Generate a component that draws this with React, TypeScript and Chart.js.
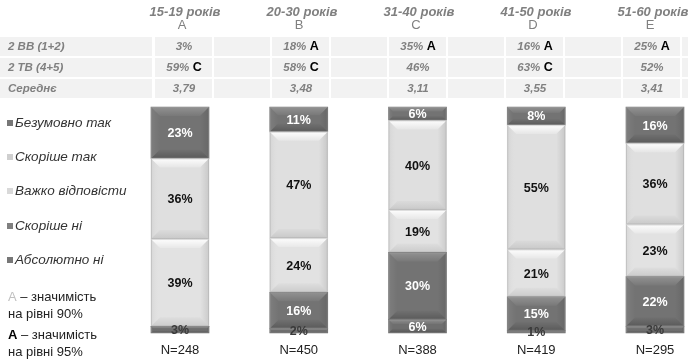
import React, { useEffect, useRef } from "react";
import { Chart, registerables } from "chart.js";

Chart.register(...registerables);

// ---- data ----
const groups = ["15-19 років", "20-30 років", "31-40 років", "41-50 років", "51-60 років"];
const groupLetters = ["A", "B", "C", "D", "E"];
const sampleSizes = ["N=248", "N=450", "N=388", "N=419", "N=295"];

const seriesNames = ["Абсолютно ні", "Скоріше ні", "Важко відповісти", "Скоріше так", "Безумовно так"];
const absolutelyNo = [3, 2, 6, 1, 3];
const ratherNo = [0, 16, 30, 15, 22];
const hardToSay = [39, 24, 19, 21, 23];
const ratherYes = [36, 47, 40, 55, 36];
const definitelyYes = [23, 11, 6, 8, 16];

const rowLabels = ["2 BB (1+2)", "2 TB (4+5)", "Середнє"];
const bottomTwo = ["3%", "18%", "35%", "16%", "25%"];
const bottomTwoSig = ["", "A", "A", "A", "A"];
const topTwo = ["59%", "58%", "46%", "63%", "52%"];
const topTwoSig = ["C", "C", "", "C", ""];
const means = ["3,79", "3,48", "3,11", "3,55", "3,41"];

// ---- styles ----
const FONT = "'Liberation Sans', Arial, sans-serif";
const seriesColors = ["#6e6e6e", "#737373", "#e2e2e2", "#dfdfdf", "#737373"];
const legendColors = ["#777777", "#808080", "#d9d9d9", "#cfcfcf", "#777777"];
const darkSeries = [true, true, false, false, true];

const seriesValues = [absolutelyNo, ratherNo, hardToSay, ratherYes, definitelyYes];
const colTotals = groups.map((_, i) => seriesValues.reduce((s, arr) => s + arr[i], 0));

function grad(ctx: any, x0: number, y0: number, x1: number, y1: number, c0: string, c1: string) {
  const g = ctx.createLinearGradient(x0, y0, x1, y1);
  g.addColorStop(0, c0);
  g.addColorStop(1, c1);
  return g;
}

const overlayPlugin = {
  id: "overlay",
  beforeDatasetsDraw(chart: any) {
    const ctx = chart.ctx;
    ctx.save();
    const rowTops = [37, 58, 79];
    ctx.fillStyle = "#f2f2f2";
    rowTops.forEach((t) => {
      ctx.fillRect(0, t, 152, 19);
      for (let i = 0; i < groups.length; i++) {
        ctx.fillRect(155 + i * 117, t, 57, 19);
        ctx.fillRect(214 + i * 117, t, 56, 19);
      }
    });
    ctx.restore();
  },
  afterDatasetsDraw(chart: any) {
    const ctx = chart.ctx;
    ctx.save();
    chart.data.datasets.forEach((ds: any, di: number) => {
      const meta = chart.getDatasetMeta(di);
      meta.data.forEach((el: any) => {
        const { x, y, base, width } = el.getProps(["x", "y", "base", "width"], true);
        const l = x - width / 2;
        const r = x + width / 2;
        const t = Math.min(y, base);
        const b = Math.max(y, base);
        const h = b - t;
        if (h < 0.5) return;
        const bv = Math.min(9, h / 3, width / 4);
        const dark = darkSeries[di];
        // top bevel
        ctx.fillStyle = grad(ctx, 0, t, 0, t + bv,
          dark ? "rgba(255,255,255,0.22)" : "rgba(255,255,255,0.95)",
          dark ? "rgba(255,255,255,0.04)" : "rgba(255,255,255,0.2)");
        ctx.beginPath();
        ctx.moveTo(l, t); ctx.lineTo(r, t); ctx.lineTo(r - bv, t + bv); ctx.lineTo(l + bv, t + bv); ctx.closePath();
        ctx.fill();
        // bottom bevel
        ctx.fillStyle = grad(ctx, 0, b, 0, b - bv,
          dark ? "rgba(0,0,0,0.22)" : "rgba(0,0,0,0.10)",
          "rgba(0,0,0,0.02)");
        ctx.beginPath();
        ctx.moveTo(l, b); ctx.lineTo(r, b); ctx.lineTo(r - bv, b - bv); ctx.lineTo(l + bv, b - bv); ctx.closePath();
        ctx.fill();
        // left bevel
        ctx.fillStyle = grad(ctx, l, 0, l + bv,0,
          dark ? "rgba(255,255,255,0.08)" : "rgba(0,0,0,0.05)",
          "rgba(255,255,255,0.0)");
        ctx.beginPath();
        ctx.moveTo(l, t); ctx.lineTo(l + bv, t + bv); ctx.lineTo(l + bv, b - bv); ctx.lineTo(l, b); ctx.closePath();
        ctx.fill();
        // right bevel
        ctx.fillStyle = grad(ctx, r, 0, r - bv, 0, "rgba(0,0,0,0.10)", "rgba(0,0,0,0.0)");
        ctx.beginPath();
        ctx.moveTo(r, t); ctx.lineTo(r - bv, t + bv); ctx.lineTo(r - bv, b - bv); ctx.lineTo(r, b); ctx.closePath();
        ctx.fill();
        ctx.strokeStyle = "rgba(160,160,160,0.35)";
        ctx.lineWidth = 1;
        ctx.strokeRect(l + 0.5, t + 0.5, width - 1, h - 1);
      });
    });
    // value labels
    ctx.textAlign = "center";
    ctx.textBaseline = "middle";
    ctx.font = `bold 12.5px ${FONT}`;
    chart.data.datasets.forEach((ds: any, di: number) => {
      const meta = chart.getDatasetMeta(di);
      meta.data.forEach((el: any, i: number) => {
        const raw = seriesValues[di][i];
        if (!raw) return;
        const { x, y, base } = el.getProps(["x", "y", "base"], true);
        const h = Math.abs(base - y);
        const cy = (y + base) / 2;
        ctx.fillStyle = h < 9 ? "#3a3a3a" : darkSeries[di] ? "#ffffff" : "#111111";
        ctx.fillText(raw + "%", x, cy + 1);
      });
    });
    ctx.restore();
  },
  afterDraw(chart: any) {
    const ctx = chart.ctx;
    const xs = chart.scales.x;
    ctx.save();
    ctx.textBaseline = "middle";

    // header
    ctx.textAlign = "center";
    groups.forEach((g, i) => {
      const cx = 155 + i * 117 + 30;
      ctx.fillStyle = "#808080";
      ctx.font = `italic bold 13px ${FONT}`;
      ctx.fillText(g, cx, 12);
      ctx.font = `13px ${FONT}`;
      ctx.fillText(groupLetters[i], cx - 3, 25);
    });

    // table rows
    const rowTops = [37, 58, 79];
    const rowVals = [bottomTwo, topTwo, means];
    const rowSig = [bottomTwoSig, topTwoSig, ["", "", "", "", ""]];
    rowTops.forEach((t, r) => {
      const cy = t + 10;
      ctx.textAlign = "left";
      ctx.fillStyle = "#808080";
      ctx.font = `italic bold 11.5px ${FONT}`;
      ctx.fillText(rowLabels[r], 8, cy);
      for (let i = 0; i < groups.length; i++) {
        const cx = 155 + i * 117 + 29;
        const v = rowVals[r][i];
        const s = rowSig[r][i];
        ctx.font = `italic bold 11.5px ${FONT}`;
        const wv = ctx.measureText(v).width;
        ctx.font = `bold 12.5px ${FONT}`;
        const ws = s ? ctx.measureText(" " + s).width : 0;
        const start = cx - (wv + ws) / 2;
        ctx.font = `italic bold 11.5px ${FONT}`;
        ctx.fillStyle = "#808080";
        ctx.fillText(v, start, cy);
        if (s) {
          ctx.font = `bold 12.5px ${FONT}`;
          ctx.fillStyle = "#000000";
          ctx.fillText(" " + s, start + wv, cy);
        }
      }
    });

    // legend (top to bottom: last series first)
    const legendY = [123, 157, 191, 226, 260];
    ctx.textAlign = "left";
    for (let k = 0; k < seriesNames.length; k++) {
      const si = seriesNames.length - 1 - k;
      const y = legendY[k];
      ctx.fillStyle = legendColors[si];
      ctx.fillRect(7, y - 3, 6, 6);
      ctx.fillStyle = "#333333";
      ctx.font = `italic 13.5px ${FONT}`;
      ctx.fillText(seriesNames[si], 15, y);
    }

    // significance notes
    ctx.font = `13px ${FONT}`;
    ctx.fillStyle = "#c0c0c0";
    ctx.fillText("A", 8, 297);
    let w = ctx.measureText("A").width;
    ctx.fillStyle = "#222222";
    ctx.fillText(" – значимість", 8 + w, 297);
    ctx.fillText("на рівні 90%", 8, 314);
    ctx.font = `bold 13px ${FONT}`;
    ctx.fillStyle = "#000000";
    ctx.fillText("A", 8, 335);
    w = ctx.measureText("A").width;
    ctx.font = `13px ${FONT}`;
    ctx.fillStyle = "#222222";
    ctx.fillText(" – значимість", 8 + w, 335);
    ctx.fillText("на рівні 95%", 8, 352);

    // sample sizes under bars
    ctx.textAlign = "center";
    ctx.font = `13px ${FONT}`;
    ctx.fillStyle = "#222222";
    sampleSizes.forEach((n, i) => {
      ctx.fillText(n, xs.getPixelForValue(i), 350);
    });
    ctx.restore();
  },
};

export default function App() {
  const ref = useRef<HTMLCanvasElement | null>(null);
  useEffect(() => {
    if (!ref.current) return;
    const chart = new Chart(ref.current, {
      type: "bar",
      data: {
        labels: groups,
        datasets: seriesNames.map((name, di) => ({
          label: name,
          data: seriesValues[di].map((v, i) => (v / colTotals[i]) * 100),
          backgroundColor: seriesColors[di],
          borderWidth: 0,
          barThickness: 58,
          clip: false as any,
        })),
      },
      options: {
        animation: false,
        responsive: false,
        maintainAspectRatio: false,
        layout: { padding: { left: 180, right: 33, top: 107, bottom: 26 } },
        plugins: { legend: { display: false }, tooltip: { enabled: false } },
        scales: {
          x: { display: false, stacked: true, offset: false },
          y: { display: false, stacked: true, min: 0, max: 100 },
        },
      },
      plugins: [overlayPlugin],
    });
    return () => chart.destroy();
  }, []);
  return (
    <div style={{ position: "absolute", left: 0, top: 0, width: 688, height: 359, background: "#ffffff" }}>
      <canvas ref={ref} width={688} height={359} style={{ display: "block" }} />
    </div>
  );
}
